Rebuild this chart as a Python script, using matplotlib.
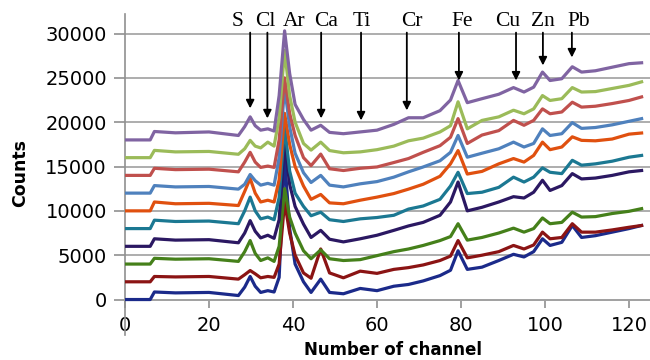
import matplotlib
matplotlib.use("Agg")
import matplotlib.pyplot as plt

channel = [0, 6, 7, 12, 20, 27, 28.5, 29.8, 31, 32.3, 34, 35.5, 36.7, 38, 39.2, 40.5,
           42.5, 44.3, 46.6, 48.7, 52, 56, 60, 64, 67.5, 71, 75, 77.5, 79.3, 81.5,
           85, 89, 92.5, 95, 97.3, 99.4, 101.2, 104, 106.5, 108.7, 112, 116, 120, 123]

# counts, bottom spectrum first
s1 = [0, 0, 850, 750, 800, 450, 1400, 2600, 1500, 800, 1000, 850, 2500, 16000, 8000, 4000,
      2000, 800, 2300, 800, 650, 1250, 1000, 1500, 1700, 2100, 2700, 3300, 5500, 3400,
      3650, 4400, 5100, 4800, 5400, 6850, 6100, 6450, 8350, 7000, 7200, 7600, 8000, 8350]
s2 = [2000, 2000, 2600, 2550, 2600, 2300, 2800, 3270, 2900, 2450, 2600, 2500, 4000, 11000, 7500, 5000,
      3000, 2400, 5700, 3000, 2450, 3200, 2950, 3400, 3600, 3900, 4400, 4900, 6650, 4700,
      5000, 5400, 6100, 5700, 6150, 7600, 6850, 7000, 8550, 7600, 7600, 7850, 8150, 8350]
s3 = [4000, 4000, 4650, 4550, 4600, 4300, 5400, 6650, 5200, 4400, 4700, 4300, 6000, 12500, 9300, 7500,
      5500, 4600, 5600, 4600, 4400, 4500, 4950, 5400, 5700, 6100, 6650, 7100, 8550, 6700,
      7000, 7500, 8050, 7600, 8000, 9200, 8550, 8700, 9850, 9300, 9350, 9700, 9950, 10250]
s4 = [6000, 6000, 6850, 6700, 6750, 6400, 7500, 8900, 7700, 6950, 7250, 6900, 9000, 17800, 13000, 10500,
      8500, 7000, 7800, 6800, 6500, 6850, 7250, 7800, 8300, 8700, 9500, 11000, 13250, 10000,
      10400, 11000, 11600, 11450, 12100, 13450, 12300, 12850, 14200, 13600, 13700, 14000, 14400, 14550]
s5 = [8000, 8000, 8950, 8800, 8850, 8550, 10000, 11550, 10000, 9100, 9300, 9000, 11500, 19500, 14500, 12000,
      10500, 9450, 9850, 9000, 8800, 9100, 9250, 9500, 10200, 10550, 11300, 12800, 14350, 11950,
      12100, 12650, 13800, 13250, 13800, 14850, 14350, 14200, 15700, 15150, 15300, 15600, 16050, 16250]
s6 = [10000, 10000, 11000, 10800, 10850, 10600, 12200, 13650, 12000, 11000, 11200, 11000, 13500, 21000, 17500, 15000,
      12800, 11300, 11850, 10900, 10800, 11200, 11550, 11950, 12450, 13000, 13900, 15300, 16800, 14150,
      14450, 15300, 15900, 15500, 16250, 17750, 16900, 17200, 18350, 17950, 17900, 18100, 18650, 18780]
s7 = [12000, 12000, 12850, 12700, 12750, 12450, 13000, 14100, 13400, 12900, 13100, 12900, 16000, 23900, 19500, 16500,
      14300, 13200, 14000, 12900, 12700, 13050, 13300, 13800, 14400, 14950, 15650, 16600, 18500, 16050,
      16500, 17000, 17750, 17200, 17600, 19250, 18500, 18700, 19950, 19300, 19400, 19700, 20100, 20400]
s8 = [14000, 14000, 14800, 14650, 14700, 14400, 15500, 16600, 15500, 14900, 15050, 14900, 18000, 25000, 21000, 18500,
      16000, 15100, 16400, 14750, 14550, 14800, 14950, 15450, 15900, 16600, 17350, 18300, 20400, 17600,
      18550, 19050, 20200, 19650, 20200, 21500, 20950, 21150, 22250, 21700, 21800, 22100, 22450, 22850]
s9 = [16000, 16000, 16820, 16650, 16700, 16380, 17000, 17950, 17300, 17100, 17750, 17300, 20500, 28100, 23000, 20000,
      17600, 16850, 17750, 16800, 16550, 16650, 16900, 17300, 17900, 18200, 18900, 19600, 22300, 19250,
      20200, 20600, 21350, 20950, 21500, 23000, 22450, 22650, 23900, 23400, 23450, 23800, 24150, 24550]
s10 = [18000, 18000, 18950, 18800, 18900, 18500, 19500, 20600, 19600, 19100, 19250, 19000, 23000, 30300, 25500, 22000,
       20300, 19100, 19650, 18850, 18700, 18900, 19100, 19750, 20500, 20500, 21300, 22500, 24700, 22200,
       22650, 23150, 23900, 23400, 23950, 25650, 24700, 24900, 26250, 25650, 25800, 26200, 26600, 26700]

spectra = [s1, s2, s3, s4, s5, s6, s7, s8, s9, s10]
colors = ['#1b2a8a', '#8b1414', '#45801a', '#2b1862', '#1b7892',
          '#e0500f', '#4f81bd', '#c0504d', '#9bbb59', '#8064a2']

# element markers: label, text x, arrow x, arrow tip (counts)
elements = ['S', 'Cl', 'Ar', 'Ca', 'Ti', 'Cr', 'Fe', 'Cu', 'Zn', 'Pb']
label_x = [26.8, 33.5, 40.2, 47.8, 56.5, 68.3, 80.2, 91.0, 99.6, 108.1]
arrow_x = [29.8, 33.9, None, 46.7, 56.2, 67.1, 79.5, 93.1, 99.5, 106.4]
arrow_tip = [21560, 20430, None, 20430, 20200, 21330, 24700, 24700, 26400, 27300]

fig = plt.figure(figsize=(6.5, 3.6), dpi=100)
ax = fig.add_axes([125/650, 25/360, 525/650, 321/360])

for i, (y, c) in enumerate(zip(spectra, colors)):
    ax.plot(channel, y, color=c, lw=2.3, solid_joinstyle='round', zorder=3 + i)

ax.set_xlim(0, 125)
ax.set_ylim(-4000, 32200)
ax.set_xticks(range(0, 121, 20))
ax.set_yticks(range(0, 30001, 5000))
ax.yaxis.grid(True, color='#a0a0a0', lw=1.2)
ax.set_axisbelow(True)

for s in ['top', 'right']:
    ax.spines[s].set_visible(False)
ax.spines['bottom'].set_position(('data', 0))
ax.spines['bottom'].set_color('#a0a0a0')
ax.spines['bottom'].set_linewidth(1.2)
ax.spines['left'].set_color('#909090')
ax.spines['left'].set_linewidth(1.2)
ax.tick_params(axis='y', length=8, width=1.2, color='#909090', pad=5, labelsize=14)
ax.tick_params(axis='x', length=6, width=1.2, color='#909090', pad=6, labelsize=14)

for lab, tx, axx, tip in zip(elements, label_x, arrow_x, arrow_tip):
    ax.text(tx, 31300, lab, family='Liberation Serif', fontsize=15.5,
            ha='center', va='center', zorder=20)
    if axx is not None:
        ax.annotate('', xy=(axx, tip), xytext=(axx, 30100),
                    arrowprops=dict(arrowstyle='-|>', color='black', lw=1.3,
                                    mutation_scale=12, shrinkA=0, shrinkB=0),
                    zorder=20)

fig.text(20/650, 0.52, 'Counts', rotation=90, fontsize=12.5, fontweight='bold',
         ha='center', va='center')
fig.text(393/650, 10/360, 'Number of channel', fontsize=12, fontweight='bold',
         ha='center', va='center')

fig.savefig('out.png', dpi=100)
